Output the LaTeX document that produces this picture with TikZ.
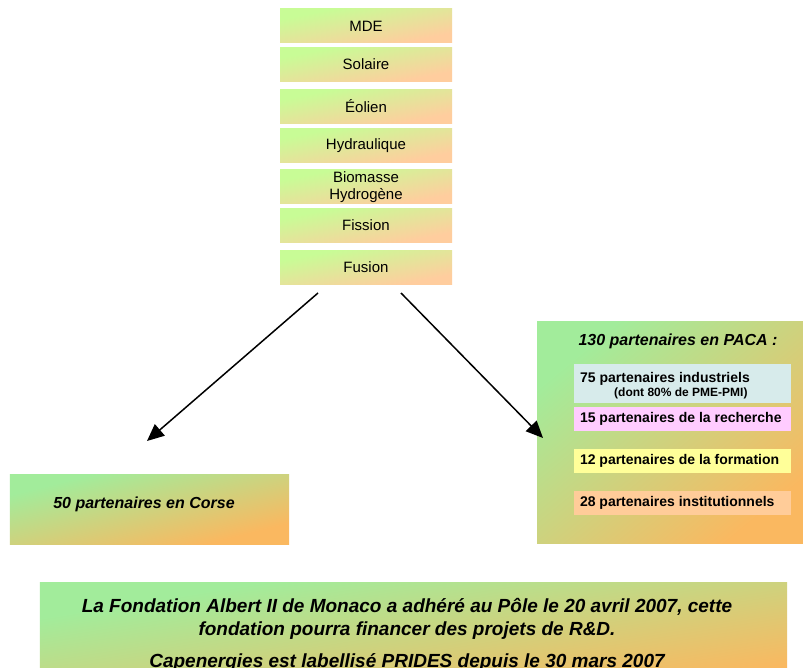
\documentclass[tikz,border=0pt]{standalone}
\usepackage{fontspec}
\setmainfont{Liberation Sans}
\usepackage{tikz}
\usetikzlibrary{arrows.meta,positioning}
\definecolor{vertclair}{RGB}{200,252,150}
\definecolor{orangeclair}{RGB}{255,205,158}
\definecolor{vert}{RGB}{162,236,155}
\definecolor{orange}{RGB}{250,184,96}
\definecolor{bleuind}{RGB}{215,235,235}
\definecolor{roserech}{RGB}{255,204,255}
\definecolor{jauneform}{RGB}{255,255,153}
\definecolor{peachinst}{RGB}{255,204,153}
% boite en degrade diagonal : nom, x, y, largeur, hauteur, couleur haut-gauche, couleur bas-droite
\newcommand{\boitedeg}[7]{%
  \begin{scope}[transform canvas={shift={(#2,#3)},xscale=#4/2,yscale=#5/2}]
    \shade[top color=#6,bottom color=#7,shading angle=45] (-1pt,-1pt) rectangle (1pt,1pt);
  \end{scope}
  \node[minimum width=#4pt,minimum height=#5pt,inner sep=0pt] (#1) at (#2,#3) {};}
\tikzset{
  filtxt/.style={align=center,inner sep=0pt,font=\fontsize{15}{17}\selectfont},
  partbox/.style={minimum width=217pt,inner sep=0pt},
  parttxt/.style={inner sep=0pt,align=left,font=\bfseries\fontsize{14}{16}\selectfont},
  titre/.style={font=\bfseries\itshape\fontsize{16}{18}\selectfont},
  fondligne/.style={anchor=base,inner sep=0pt,font=\bfseries\itshape\fontsize{19}{23}\selectfont},
  fleche/.style={line width=1.5pt,-{Triangle[length=17pt,width=15pt]}}
}
\begin{document}
\begin{tikzpicture}[x=1pt,y=-1pt]
	\clip (0,0) rectangle (803,668);
	\fill[white] (0,0) rectangle (803,668);
	% filieres
	\foreach \y/\t/\n in {26/MDE/mde,64.5/Solaire/sol,106.5/Éolien/eol,145.5/Hydraulique/hyd,
		187/{Biomasse\\Hydrogène}/bio,225.5/Fission/fis,267.5/Fusion/fus}
	{
	\boitedeg{\n}{366}{\y}{172}{34}{vertclair}{orangeclair}
	\node[filtxt] (\n txt) at (\n) {\t};
	}
	
	% Corse
	\boitedeg{corse}{149.5}{509}{279}{70}{vert}{orange}
	\node[titre] (corsetxt) at (144,504) {50 partenaires en Corse};
	
	% PACA
	\boitedeg{paca}{671}{432.5}{268}{221}{vert}{orange}
	\node[titre] (pacatxt) at (678,341) {130 partenaires en PACA :};
	\node[partbox,fill=bleuind,minimum height=39pt] (ind) at (682.5,383.5) {};
	\node[partbox,fill=roserech,minimum height=24pt] (rech) at (682.5,419) {};
	\node[partbox,fill=jauneform,minimum height=24pt] (form) at (682.5,461) {};
	\node[partbox,fill=peachinst,minimum height=24pt] (inst) at (682.5,503) {};
	\node[parttxt,anchor=base west] (indtxt) at (580,382) {75 partenaires industriels};
	\node[inner sep=0pt,anchor=base west,font=\bfseries\fontsize{12}{13}\selectfont] (pme) at (614,396) {(dont 80\% de PME-PMI)};
	\node[parttxt,right=6pt of rech.west] (rechtxt) {15 partenaires de la recherche};
	\node[parttxt,right=6pt of form.west] (formtxt) {12 partenaires de la formation};
	\node[parttxt,right=6pt of inst.west] (insttxt) {28 partenaires institutionnels};
	
	% fleches
	\coordinate (depg) at (318,293);
	\coordinate (depd) at (401,293);
	\coordinate (arrg) at (147,441);
	\coordinate (arrd) at (543,438);
	\draw[fleche] (depg) -- (arrg);
	\draw[fleche] (depd) -- (arrd);
	
	% fondation
	\boitedeg{fond}{413.5}{642}{747}{120}{vert}{orange}
	\node[fondligne] (fond1) at (407,612) {La Fondation Albert II de Monaco a adhéré au Pôle le 20 avril 2007, cette};
	\node[fondligne] (fond2) at (407,635) {fondation pourra financer des projets de R\&D.};
	\node[fondligne] (fond3) at (407,667) {Capenergies est labellisé PRIDES depuis le 30 mars 2007};
\end{tikzpicture}
\end{document}
